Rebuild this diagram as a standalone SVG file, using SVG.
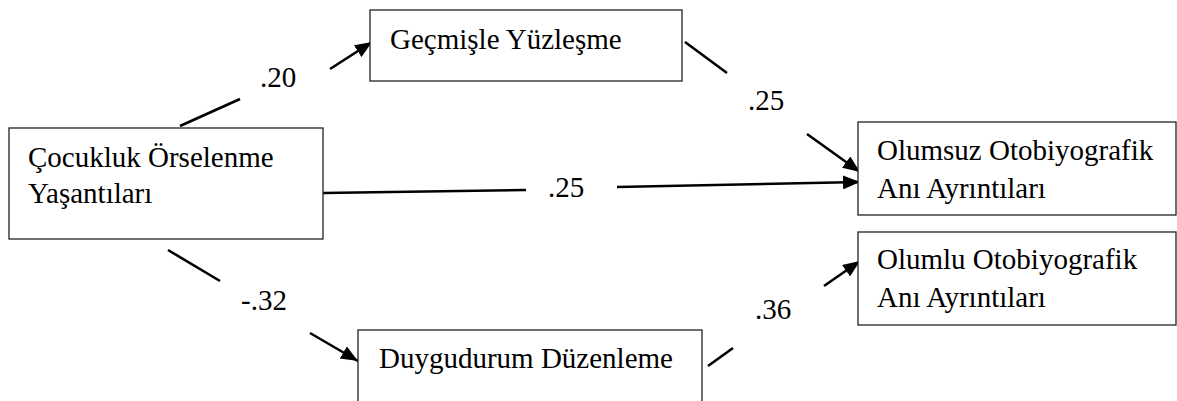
<svg xmlns="http://www.w3.org/2000/svg" width="1177" height="401" viewBox="0 0 1177 401">
<style>
.box{fill:#fff;stroke:#222;stroke-width:1.3}
.t{font-family:"Liberation Serif","Times New Roman",serif;font-size:29px;fill:#000}
.c{stroke:#000;stroke-width:2.6;fill:none}
.a{marker-end:url(#ah)}
</style>
<defs>
<marker id="ah" markerUnits="userSpaceOnUse" markerWidth="18" markerHeight="14" refX="17" refY="7" orient="auto">
<path d="M0,0 L17,7 L0,14 z" fill="#000"/>
</marker>
</defs>
<rect width="1177" height="401" fill="#fff"/>
<g id="connectors">
<line class="c" x1="180" y1="126" x2="240" y2="99"/>
<line class="c a" x1="330" y1="69" x2="372" y2="42"/>
<line class="c" x1="685" y1="42" x2="727" y2="73"/>
<line class="c a" x1="807" y1="134" x2="860" y2="172"/>
<line class="c" x1="323" y1="193" x2="526" y2="190"/>
<line class="c a" x1="617" y1="187" x2="860" y2="182"/>
<line class="c" x1="168" y1="250" x2="220" y2="281"/>
<line class="c a" x1="310" y1="333" x2="358" y2="361"/>
<line class="c" x1="708" y1="366" x2="733" y2="348"/>
<line class="c a" x1="824" y1="286" x2="860" y2="261"/>
<text class="t" x="260" y="87">.20</text>
<text class="t" x="748" y="110">.25</text>
<text class="t" x="548" y="197">.25</text>
<text class="t" x="241" y="310">-.32</text>
<text class="t" x="755" y="319">.36</text>
</g>
<g id="node-gecmis">
<rect class="box" x="370" y="10" width="312" height="71"/>
<text class="t" x="390" y="49">Geçmişle Yüzleşme</text>
</g>
<g id="node-cocukluk">
<rect class="box" x="9" y="128" width="314" height="111"/>
<text class="t" x="28" y="167">Çocukluk Örselenme</text>
<text class="t" x="28" y="203">Yaşantıları</text>
</g>
<g id="node-olumsuz">
<rect class="box" x="858" y="122" width="318" height="93"/>
<text class="t" x="877" y="160">Olumsuz Otobiyografik</text>
<text class="t" x="877" y="198">Anı Ayrıntıları</text>
</g>
<g id="node-olumlu">
<rect class="box" x="858" y="232" width="318" height="93"/>
<text class="t" x="877" y="269">Olumlu Otobiyografik</text>
<text class="t" x="877" y="307">Anı Ayrıntıları</text>
</g>
<g id="node-duygu">
<rect class="box" x="358" y="330" width="344" height="80"/>
<text class="t" x="379" y="368">Duygudurum Düzenleme</text>
</g>
</svg>
